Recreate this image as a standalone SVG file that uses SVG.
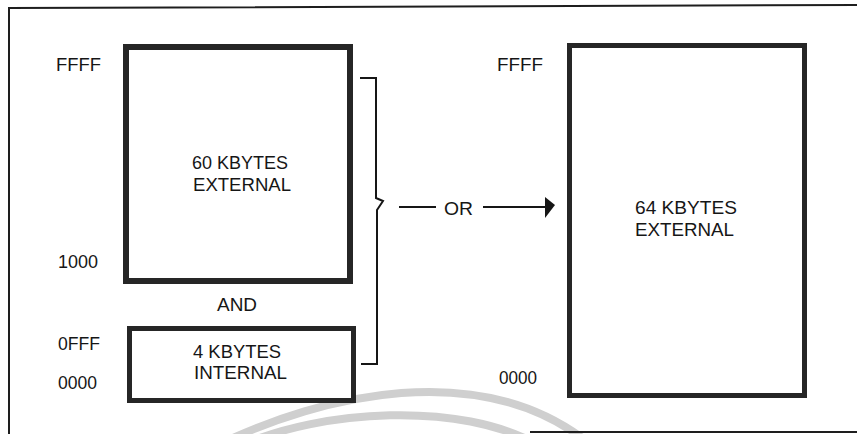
<svg xmlns="http://www.w3.org/2000/svg" width="857" height="434" viewBox="0 0 857 434">
  <defs>
    <style>
      .txt { font-family: "Liberation Sans", Arial, sans-serif; font-size: 19px; fill: #161616; }
      .mid { text-anchor: middle; }
      .box { fill: #ffffff; stroke: #262626; }
      .conn { fill: none; stroke: #161616; stroke-width: 2; }
      .frame { fill: none; stroke: #1e1e1e; stroke-width: 2; }
      .wm { fill: none; stroke: #cfcfcf; stroke-width: 8; stroke-linecap: round; }
    </style>
  </defs>
  <rect x="0" y="0" width="857" height="434" fill="#ffffff"/>

  <g id="watermark">
    <path class="wm" d="M 220 444 C 320 396, 480 356, 590 444"/>
    <path class="wm" d="M 240 446 C 320 410, 460 400, 540 446"/>
  </g>

  <g id="frame">
    <path class="frame" d="M 9 434 V 8 L 857 5"/>
    <path class="frame" d="M 530 432 H 857" stroke="#4a4a4a" stroke-width="3"/>
  </g>

  <g id="addr-labels">
    <text class="txt" x="56" y="71" textLength="45" lengthAdjust="spacingAndGlyphs">FFFF</text>
    <text class="txt" x="58" y="268" textLength="40" lengthAdjust="spacingAndGlyphs">1000</text>
    <text class="txt" x="58" y="350" textLength="42" lengthAdjust="spacingAndGlyphs">0FFF</text>
    <text class="txt" x="58" y="389" textLength="39" lengthAdjust="spacingAndGlyphs">0000</text>
    <text class="txt" x="497" y="71" textLength="46" lengthAdjust="spacingAndGlyphs">FFFF</text>
    <text class="txt" x="499" y="384" textLength="38" lengthAdjust="spacingAndGlyphs">0000</text>
    <text class="txt" x="217" y="311" textLength="40" lengthAdjust="spacingAndGlyphs">AND</text>
  </g>

  <g id="ext60">
    <rect class="box" x="126" y="47" width="224" height="234" stroke-width="6"/>
    <text class="txt" x="192" y="169" textLength="96" lengthAdjust="spacingAndGlyphs">60 KBYTES</text>
    <text class="txt" x="193" y="191" textLength="98" lengthAdjust="spacingAndGlyphs">EXTERNAL</text>
  </g>

  <g id="int4">
    <rect class="box" x="129.5" y="328.5" width="224" height="72" stroke-width="5"/>
    <text class="txt" x="193" y="358" textLength="88" lengthAdjust="spacingAndGlyphs">4 KBYTES</text>
    <text class="txt" x="194" y="379" textLength="93" lengthAdjust="spacingAndGlyphs">INTERNAL</text>
  </g>

  <g id="ext64">
    <rect class="box" x="569.5" y="45.5" width="235" height="350" stroke-width="5"/>
    <text class="txt" x="635" y="214" textLength="102" lengthAdjust="spacingAndGlyphs">64 KBYTES</text>
    <text class="txt" x="635" y="236" textLength="99" lengthAdjust="spacingAndGlyphs">EXTERNAL</text>
  </g>

  <g id="connectors">
    <path class="conn" d="M 360 78 H 376 V 198 L 383 201 L 377 210 V 364 H 361"/>
    <line class="conn" x1="399" y1="207" x2="436" y2="207"/>
    <text class="txt" x="444" y="215" textLength="29" lengthAdjust="spacingAndGlyphs">OR</text>
    <line class="conn" x1="483" y1="207" x2="547" y2="207"/>
    <polygon points="545,197 555,205 545,218" fill="#161616"/>
  </g>
</svg>
